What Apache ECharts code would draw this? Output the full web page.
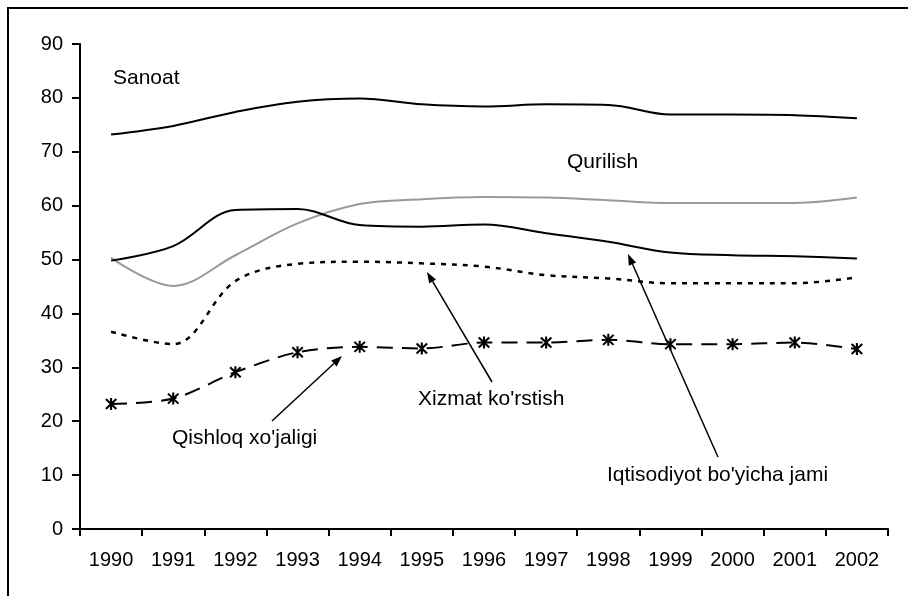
<!DOCTYPE html>
<html lang="uz">
<head>
    <meta charset="UTF-8">
    <title>Tarmoqlar bo'yicha ko'rsatkichlar</title>
    <script src="https://cdn.jsdelivr.net/npm/echarts@6/dist/echarts.min.js"></script>
    <style>
        html, body { margin: 0; padding: 0; background: #fff; }
    </style>
</head>
<body>
<div id="main" style="width: 908px;height:596px;"></div>
<script type="text/javascript">
    // yillar
    var years = ['1990', '1991', '1992', '1993', '1994', '1995', '1996',
                 '1997', '1998', '1999', '2000', '2001', '2002'];

    // qatorlar (rasmdan o'qilgan qiymatlar)
    var sanoat      = [73.2, 74.8, 77.4, 79.3, 79.9, 78.8, 78.4, 78.8, 78.7, 76.9, 76.9, 76.8, 76.2];
    var qurilish    = [50.3, 45.1, 50.8, 56.7, 60.3, 61.2, 61.6, 61.5, 61.0, 60.5, 60.5, 60.5, 61.5];
    var iqtisodiyot = [49.8, 52.5, 59.2, 59.4, 56.4, 56.1, 56.5, 54.9, 53.3, 51.3, 50.8, 50.6, 50.2];
    var xizmat      = [36.6, 34.3, 46.0, 49.2, 49.6, 49.3, 48.7, 47.1, 46.5, 45.6, 45.6, 45.6, 46.7];
    var qishloq     = [23.2, 24.2, 29.1, 32.8, 33.8, 33.5, 34.6, 34.6, 35.1, 34.3, 34.3, 34.6, 33.4];

    var yTicks = [0, 10, 20, 30, 40, 50, 60, 70, 80, 90];

    var font = 'Liberation Sans, Arial, sans-serif';

    // yulduzcha marker
    var starPath = 'path://M-1,-6L1,-6L1,6L-1,6Z' +
        'M-5.7,-4.3L-4.3,-5.7L5.7,4.3L4.3,5.7Z' +
        'M4.3,-5.7L5.7,-4.3L-4.3,5.7L-5.7,4.3Z';

    // strelka: chiziq + uchburchak uchi
    function arrow(x1, y1, x2, y2) {
        var ang = Math.atan2(y2 - y1, x2 - x1);
        var len = 11, half = 4;
        var bx = x2 - len * Math.cos(ang), by = y2 - len * Math.sin(ang);
        var px = -Math.sin(ang) * half, py = Math.cos(ang) * half;
        return [
            {
                type: 'line',
                shape: { x1: x1, y1: y1, x2: bx, y2: by },
                style: { stroke: '#000', lineWidth: 1.5 }
            },
            {
                type: 'polygon',
                shape: { points: [[x2, y2], [bx + px, by + py], [bx - px, by - py]] },
                style: { fill: '#000' }
            }
        ];
    }

    function label(text, x, y) {
        return {
            type: 'text',
            x: x, y: y,
            style: {
                text: text, fill: '#000', font: '21px ' + font,
                textVerticalAlign: 'middle'
            }
        };
    }

    var myChart = echarts.init(document.getElementById('main'));

    var graphics = [
        {
            type: 'rect',
            shape: { x: 8, y: 8, width: 1000, height: 1000 },
            style: { fill: 'none', stroke: '#000', lineWidth: 2 }
        },
        label('Sanoat', 113, 78),
        label('Qurilish', 567, 162),
        label('Xizmat ko\'rstish', 418, 399),
        label('Qishloq xo\'jaligi', 172, 438),
        label('Iqtisodiyot bo\'yicha jami', 607, 475)
    ];
    graphics = graphics
        .concat(arrow(272, 421, 342, 356))
        .concat(arrow(492, 382, 427, 272))
        .concat(arrow(718, 457, 628, 254));

    var option = {
        animation: false,
        grid: { left: 80, right: 20, top: 44, bottom: 67 },
        xAxis: {
            type: 'category',
            data: years,
            boundaryGap: true,
            axisLine: { lineStyle: { color: '#000', width: 2 } },
            axisTick: { show: true, length: 7, lineStyle: { color: '#000', width: 2 } },
            axisLabel: { color: '#000', fontSize: 20, fontFamily: font, margin: 21 },
            splitLine: { show: false }
        },
        yAxis: {
            type: 'value',
            min: yTicks[0],
            max: yTicks[yTicks.length - 1],
            interval: 10,
            axisLine: { show: true, lineStyle: { color: '#000', width: 2 } },
            axisTick: { show: true, length: 8, lineStyle: { color: '#000', width: 2 } },
            axisLabel: { color: '#000', fontSize: 20, fontFamily: font, margin: 17 },
            splitLine: { show: false }
        },
        series: [
            {
                name: 'Sanoat', type: 'line', data: sanoat, smooth: 0.35,
                showSymbol: false, lineStyle: { color: '#000', width: 2 }
            },
            {
                name: 'Qurilish', type: 'line', data: qurilish, smooth: 0.35,
                showSymbol: false, lineStyle: { color: '#999', width: 2 }
            },
            {
                name: 'Iqtisodiyot bo\'yicha jami', type: 'line', data: iqtisodiyot, smooth: 0.35,
                showSymbol: false, lineStyle: { color: '#000', width: 2 }
            },
            {
                name: 'Xizmat ko\'rstish', type: 'line', data: xizmat, smooth: 0.35,
                showSymbol: false, lineStyle: { color: '#000', width: 2.5, type: [5, 6] }
            },
            {
                name: 'Qishloq xo\'jaligi', type: 'line', data: qishloq, smooth: 0.3,
                symbol: starPath, symbolSize: 12, showSymbol: true,
                itemStyle: { color: '#000' },
                lineStyle: { color: '#000', width: 2, type: [16, 9] }
            }
        ],
        graphic: graphics
    };

    myChart.setOption(option);
</script>
</body>
</html>
